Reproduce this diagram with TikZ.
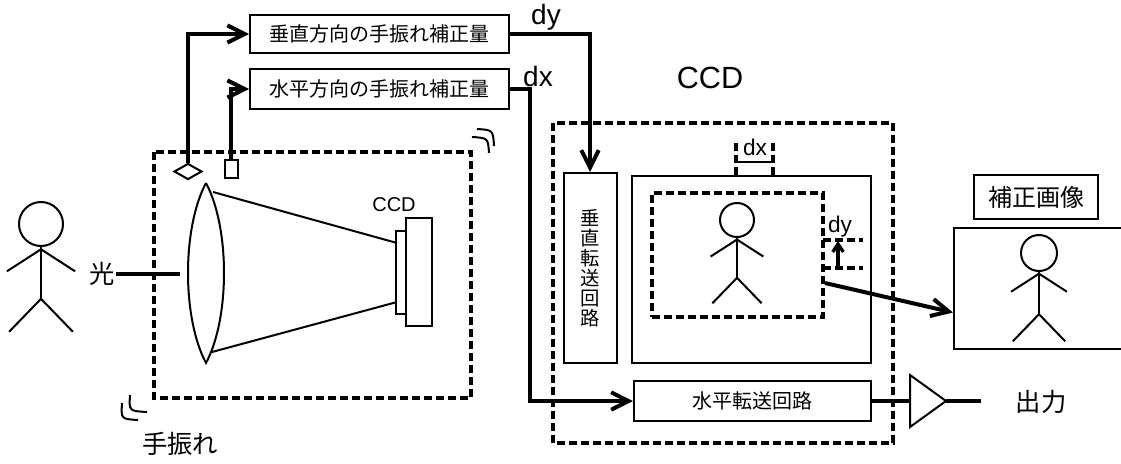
\documentclass[tikz,border=0pt]{standalone}
\usepackage{fontspec}
\setmainfont{Liberation Sans}
\newfontfamily\jp{Noto Sans CJK JP}
\usetikzlibrary{arrows.meta,shapes.geometric}

\begin{document}
\begin{tikzpicture}[x=0.75pt,y=-0.75pt,
	box/.style={draw,line width=1.5pt,inner sep=0pt,font=\jp\fontsize{15}{15}\selectfont},
	dashframe/.style={line width=3pt,dash pattern=on 6pt off 3pt},
	wire/.style={line width=3pt},
	arrowwire/.style={wire,-{Straight Barb[length=13pt,width=13pt]}},
	thinline/.style={line width=1.5pt},
	stickman/.pic={
		\draw[thinline] (0,0) circle (20);
		\draw[thinline] (0,20) -- (0,68);
		\draw[thinline] (-31,43) -- (0,23) -- (31,43);
		\draw[thinline] (-29,98) -- (0,68) -- (29,98);
	}]
	\useasboundingbox (0,0) rectangle (1121,464);

	\node[box,minimum width=194pt,minimum height=28.5pt] (vcorr) at (379.5,34) {垂直方向の手振れ補正量};
	\node[box,minimum width=194pt,minimum height=30pt] (hcorr) at (379.5,89) {水平方向の手振れ補正量};

	\draw[dashframe] (154,152) rectangle (471,398);
	\node[diamond,draw,thinline,inner sep=0pt,minimum width=21pt,minimum height=12pt] (gyrov) at (188,171.5) {};
	\node[draw,thinline,inner sep=0pt,minimum width=9.75pt,minimum height=13.5pt] (gyroh) at (231,169) {};
	\draw[arrowwire] (gyrov.north) |- (vcorr.west);
	\draw[arrowwire] (gyroh.north) |- (hcorr.west);

	\draw[thinline] (206,183) .. controls (182,228) and (182,318) .. (206,363) .. controls (230,318) and (230,228) .. (206,183);
	\node[draw,thinline,inner sep=0pt,minimum width=7.5pt,minimum height=62pt] (chip) at (401,272.5) {};
	\node[draw,thinline,inner sep=0pt,minimum width=19.5pt,minimum height=81pt] (pkg) at (419,272) {};
	\node[font=\fontsize{15}{15}\selectfont] (lblchip) at (394,205) {CCD};
	\draw[thinline] (213,192) -- (397,243);
	\draw[thinline] (212,352) -- (397,302);

	\pic[scale=1.1] at (41,224) {stickman};
	\node[font=\jp\fontsize{19}{19}\selectfont,inner sep=1pt] (hikari) at (102,274) {光};
	\coordinate (lensin) at (180,274);
	\draw[wire] (hikari.east) -- (lensin);

	\draw[thinline] (477,129) .. controls (493,130) .. (494,146);
	\draw[thinline] (472,137) .. controls (488,138) .. (489,153);
	\draw[thinline] (122,403) .. controls (121,419) .. (138,420);
	\draw[thinline] (130,395) .. controls (129,411) .. (147,412);
	\node[font=\jp\fontsize{19}{19}\selectfont] (shake) at (180,444) {手振れ};

	\draw[dashframe] (553,123) rectangle (893,443);
	\node[font=\fontsize{23}{23}\selectfont] (lblccd) at (710,78) {CCD};
	\node[box,align=center,minimum width=39.75pt,minimum height=142.5pt,font=\jp\fontsize{14.5}{15}\selectfont] (vtrans) at (590,268) {垂\\直\\転\\送\\回\\路};
	\node[box,minimum width=179.25pt,minimum height=140.25pt] (pixels) at (751.5,269.5) {};
	\node[draw,dashframe,inner sep=0pt,minimum width=128.25pt,minimum height=93pt] (crop) at (737.5,255) {};
	\pic[scale=0.85] at (737,220) {stickman};
	\node[box,minimum width=177.75pt,minimum height=30pt] (htrans) at (752.5,401) {水平転送回路};

	\draw[arrowwire] (vcorr.east) -| (vtrans.north);
	\node[font=\fontsize{21}{21}\selectfont] (lbldy) at (546,17) {dy};
	\draw[arrowwire] (hcorr.east) -- ++(20,0) |- (htrans.west);
	\node[font=\fontsize{21}{21}\selectfont] (lbldx) at (538,76) {dx};

	\draw[dashframe,line width=2.5pt] (736,143) -- (736,176);
	\draw[dashframe,line width=2.5pt] (773,143) -- (773,176);
	\draw[line width=2.2pt] (736,162) -- (773,162);
	\node[font=\fontsize{17}{17}\selectfont] (shiftx) at (755,147) {dx};
	\draw[dashframe,line width=2.5pt] (823,240) -- (863,240);
	\draw[dashframe,line width=2.5pt] (823,268) -- (863,268);
	\draw[line width=2.5pt,-{Straight Barb[length=6pt,width=8pt]}] (838,268) -- (838,241);
	\node[font=\fontsize{17}{17}\selectfont] (shifty) at (840,227) {dy};

	\node[draw,thinline,minimum width=127.5pt,minimum height=90.75pt] (outimg) at (1039,288.5) {};
	\node[box,minimum width=93pt,minimum height=33pt,font=\jp\fontsize{18}{18}\selectfont] (outlbl) at (1036,197) {補正画像};
	\pic[scale=0.9] at (1039,253) {stickman};
	\draw[arrowwire] ([yshift=-21pt]crop.east) -- ([yshift=-18pt]outimg.west);

	\coordinate (ampin) at (910,401);
	\coordinate (ampout) at (946,401);
	\coordinate (outend) at (981,401);
	\draw[thinline] (910,375) -- (ampout) -- (910,427) -- cycle;
	\draw[wire] (htrans.east) -- (ampin);
	\draw[wire] (ampout) -- (outend);
	\node[font=\jp\fontsize{19}{19}\selectfont] (output) at (1041,402) {出力};
\end{tikzpicture}
\end{document}
